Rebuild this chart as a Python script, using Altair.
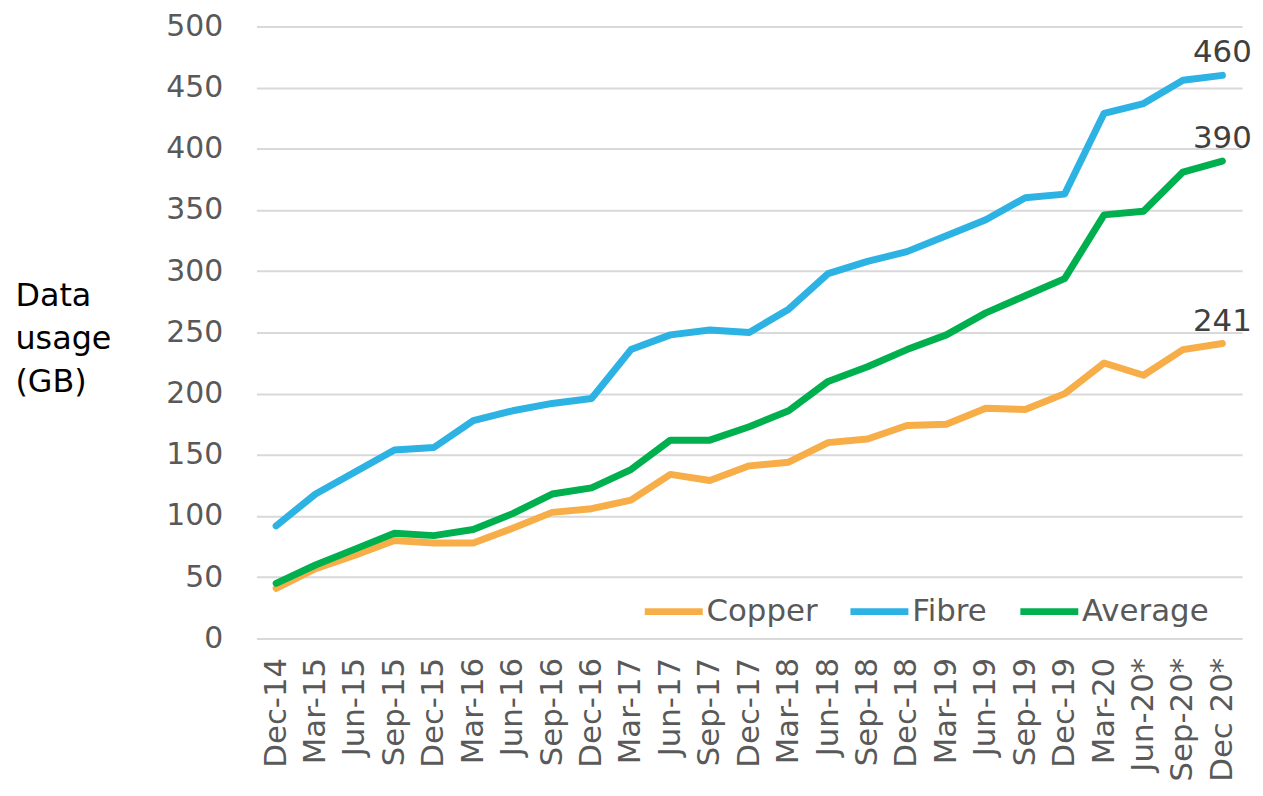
import altair as alt
import pandas as pd

periods = ["Dec-14", "Mar-15", "Jun-15", "Sep-15", "Dec-15", "Mar-16", "Jun-16", "Sep-16",
           "Dec-16", "Mar-17", "Jun-17", "Sep-17", "Dec-17", "Mar-18", "Jun-18", "Sep-18",
           "Dec-18", "Mar-19", "Jun-19", "Sep-19", "Dec-19", "Mar-20", "Jun-20*", "Sep-20*", "Dec 20*"]
copper = [41, 57, 68, 80, 78, 78, 90, 103, 106, 113, 134, 129, 141, 144, 160, 163, 174, 175, 188, 187, 200, 225, 215, 236, 241]
fibre = [92, 118, 136, 154, 156, 178, 186, 192, 196, 236, 248, 252, 250, 269, 298, 308, 316, 329, 342, 360, 363, 429, 437, 456, 460]
average = [45, 60, 73, 86, 84, 89, 102, 118, 123, 138, 162, 162, 173, 186, 210, 222, 236, 248, 266, 280, 294, 346, 349, 381, 390]
series = ["Copper", "Fibre", "Average"]
colors = ["#F7AE48", "#2DB2E4", "#00B04F"]
y_ticks = [0, 50, 100, 150, 200, 250, 300, 350, 400, 450, 500]

rows = []
for name, vals in zip(series, [copper, fibre, average]):
    for p, v in zip(periods, vals):
        rows.append({"period": p, "series": name, "value": v})
df = pd.DataFrame(rows)

x_enc = alt.X("period:N", sort=periods, scale=alt.Scale(domain=periods),
              axis=alt.Axis(title=None, labelAngle=-90, labelFontSize=31, labelColor="#595959",
                            labelPadding=19, ticks=False, domain=False, grid=False))
y_enc = alt.Y("value:Q", scale=alt.Scale(domain=[0, 500], nice=False),
              axis=alt.Axis(values=y_ticks, title=["Data", "usage", "(GB)"], titleAngle=0,
                            titleAlign="left", titleBaseline="top", titleX=-243, titleY=256,
                            titleFontSize=32, titleFontWeight="normal", titleColor="#000000",
                            titleLineHeight=43, labelFontSize=30, labelColor="#595959",
                            labelPadding=34, ticks=False, domain=False,
                            gridColor="#D9D9D9", gridWidth=2))

color_enc = alt.Color("series:N", sort=series,
                      scale=alt.Scale(domain=series, range=colors),
                      legend=alt.Legend(title=None, orient="none", legendX=387, legendY=556,
                                        direction="horizontal", symbolType="stroke",
                                        symbolStrokeWidth=7, symbolSize=3400,
                                        labelFontSize=31, labelColor="#595959",
                                        columnPadding=18, labelOffset=0))

lines = alt.Chart(df).mark_line(strokeWidth=7, strokeCap="round", strokeJoin="round").encode(
    x=x_enc, y=y_enc, color=color_enc)

labels = alt.Chart(df[df["period"] == periods[-1]]).mark_text(
    fontSize=31, color="#404040", baseline="alphabetic", align="center", dy=-13).encode(
    x=alt.X("period:N", sort=periods, scale=alt.Scale(domain=periods)),
    y="value:Q", text="value:Q")

chart = alt.layer(lines, labels).properties(
    width=992, height=616,
    autosize=alt.AutoSizeParams(type="none"),
    padding={"left": 250, "top": 16, "right": 13, "bottom": 150}
).configure(font="DejaVu Sans").configure_view(stroke=None)

chart.save("out.html", embed_options={"renderer": "svg", "actions": False})
